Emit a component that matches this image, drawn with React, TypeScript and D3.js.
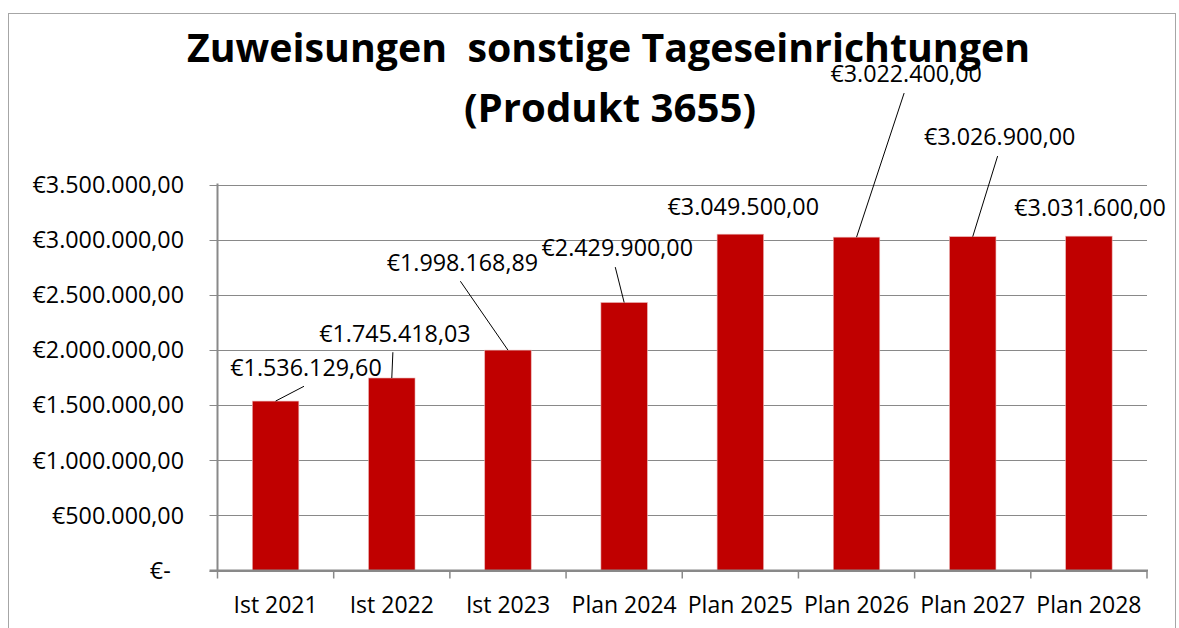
import React from "react";
import * as d3 from "d3";

const categories = ["Ist 2021", "Ist 2022", "Ist 2023", "Plan 2024", "Plan 2025", "Plan 2026", "Plan 2027", "Plan 2028"];
const values = [1536129.6, 1745418.03, 1998168.89, 2429900, 3049500, 3022400, 3026900, 3031600];
const yTicks = [0, 500000, 1000000, 1500000, 2000000, 2500000, 3000000, 3500000];
const titleLines = ["Zuweisungen  sonstige Tageseinrichtungen", "(Produkt 3655)"];
// manual label placement (offset of label centre from bar top centre), as in the source
const labelDx = [30.4, 3.1, -45.6, -6.9, 2.9, 49.6, 26.9, 1.1];
const labelDy = [-33.8, -44.8, -87.9, -54.4, -27.1, -163.1, -99.6, -28.1];
const hasLeader = [true, true, true, true, false, true, true, false];

const W = 1179;
const H = 628;
const FONT = "'Open Sans', 'Noto Sans', sans-serif";
const GRID = "#898989";
const BAR = "#C00000";
const LABEL_SIZE = 23.3;
const CAP_MID = LABEL_SIZE * 0.357;

const locale = d3.formatLocale({ decimal: ",", thousands: ".", grouping: [3], currency: ["€", ""] });
const num = locale.format(",.2f");
const euro = (v: number) => (v === 0 ? "€-\u2007" : "€" + num(v));

export default function App() {
  const left = 217.5;
  const right = 1147;
  const top = 184.5;
  const bottom = 570.5;

  const x = d3.scaleBand<string>().domain(categories).range([left, right]).paddingInner(0.6).paddingOuter(0.3);
  const y = d3.scaleLinear().domain([0, 3500000]).range([bottom, top]);
  const step = x.step();

  const boundaries = d3.range(categories.length + 1).map((i) => left + i * step);

  return (
    <svg width={W} height={H} style={{ position: "absolute", left: 0, top: 0, background: "#fff" }} fontFamily={FONT}>
      <rect x={0} y={0} width={W} height={H} fill="#fff" />
      <rect x={8.5} y={13.5} width={1167} height={640} fill="none" stroke="#a6a6a6" strokeWidth={1} />

      {/* title */}
      <text x={608.5} y={62} textAnchor="middle" fontSize={39} fontWeight={700} fill="#000" textLength={843} lengthAdjust="spacingAndGlyphs" style={{ whiteSpace: "pre" }}>
        {titleLines[0]}
      </text>
      <text x={610} y={121.5} textAnchor="middle" fontSize={39} fontWeight={700} fill="#000" textLength={292} lengthAdjust="spacingAndGlyphs">
        {titleLines[1]}
      </text>

      {/* gridlines */}
      {yTicks.map((t) => (
        <line key={"g" + t} x1={left - 8} x2={right} y1={Math.round(y(t)) + 0.5} y2={Math.round(y(t)) + 0.5} stroke={GRID} strokeWidth={1} />
      ))}

      {/* y tick labels */}
      {yTicks.map((t) => (
        <text key={"yl" + t} x={184} y={y(t) + CAP_MID} textAnchor="end" fontSize={LABEL_SIZE} fill="#000">
          {euro(t)}
        </text>
      ))}

      {/* bars */}
      {values.map((v, i) => (
        <rect key={"b" + i} x={x(categories[i])!} y={y(v)} width={x.bandwidth()} height={y(0) - y(v)} fill={BAR} stroke="#e9b3b3" strokeWidth={0.6} />
      ))}

      {/* axes */}
      <line x1={left} x2={left} y1={top - 1} y2={bottom + 1} stroke={GRID} strokeWidth={2} />
      <line x1={left - 8} x2={right + 1} y1={bottom} y2={bottom} stroke={GRID} strokeWidth={2} />
      {boundaries.map((bx, i) => (
        <line key={"xt" + i} x1={bx} x2={bx} y1={bottom} y2={bottom + 8} stroke={GRID} strokeWidth={1.5} />
      ))}

      {/* x labels */}
      {categories.map((c) => (
        <text key={"xl" + c} x={x(c)! + x.bandwidth() / 2} y={613} textAnchor="middle" fontSize={23} fill="#000">
          {c}
        </text>
      ))}

      {/* leader lines */}
      {values.map((v, i) => {
        if (!hasLeader[i]) return null;
        const bx = x(categories[i])! + x.bandwidth() / 2;
        const by = y(v);
        const lx = bx + labelDx[i] - 2;
        const ly = by + labelDy[i] + 19;
        return <line key={"ld" + i} x1={lx} y1={ly} x2={bx} y2={by} stroke="#000" strokeWidth={1} />;
      })}

      {/* data labels */}
      {values.map((v, i) => {
        const bx = x(categories[i])! + x.bandwidth() / 2;
        const by = y(v);
        return (
          <text key={"dl" + i} x={bx + labelDx[i]} y={by + labelDy[i] + CAP_MID} textAnchor="middle" fontSize={LABEL_SIZE} fill="#000">
            {euro(v)}
          </text>
        );
      })}
    </svg>
  );
}
